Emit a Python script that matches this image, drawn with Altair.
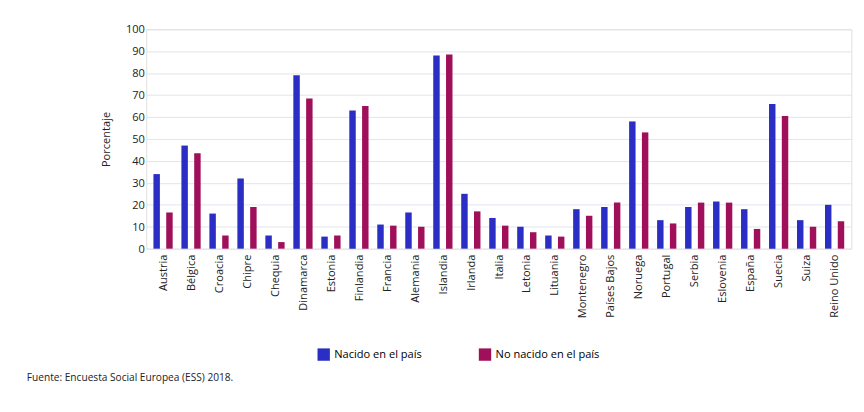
import altair as alt
import pandas as pd

countries = ["Austria","Bélgica","Croacia","Chipre","Chequia","Dinamarca","Estonia","Finlandia","Francia","Alemania","Islandia","Irlanda","Italia","Letonia","Lituania","Montenegro","Países Bajos","Noruega","Portugal","Serbia","Eslovenia","España","Suecia","Suiza","Reino Unido"]
nacido = [34,47,16,32,6,79,5.5,63,11,16.5,88,25,14,10,6,18,19,58,13,19,21.5,18,66,13,20]
no_nacido = [16.5,43.5,6,19,3,68.5,6,65,10.5,10,88.5,17,10.5,7.5,5.5,15,21,53,11.5,21,21,9,60.5,10,12.5]
series = ["Nacido en el país","No nacido en el país"]

rows = []
for c, a, b in zip(countries, nacido, no_nacido):
    rows.append({"País": c, "Serie": series[0], "Valor": a})
    rows.append({"País": c, "Serie": series[1], "Valor": b})
df = pd.DataFrame(rows)

chart = alt.Chart(df).mark_bar(width=7).encode(
    x=alt.X("País:N", sort=countries, title=None,
            axis=alt.Axis(labelAngle=-90, labelFontSize=12, labelColor="#222", domain=False, ticks=False, labelPadding=6)),
    xOffset=alt.XOffset("Serie:N", sort=series, scale=alt.Scale(paddingInner=0.25)),
    y=alt.Y("Valor:Q", title="Porcentaje", scale=alt.Scale(domain=[0,100]),
            axis=alt.Axis(values=list(range(0,101,10)), labelFontSize=12, titleFontSize=12, titleFontWeight="normal",
                          domain=False, ticks=False, gridColor="#dde3ea", labelColor="#222", titleColor="#222", titlePadding=14)),
    color=alt.Color("Serie:N", sort=series,
                    scale=alt.Scale(domain=series, range=["#2a2ec4","#a0105a"]),
                    legend=alt.Legend(orient="none", legendX=185, legendY=345, direction="horizontal", title=None,
                                      symbolType="square", symbolSize=180, labelFontSize=12, columnPadding=60)),
).properties(
    width=765, height=238,
    title=alt.TitleParams(["", "", "Fuente: Encuesta Social Europea (ESS) 2018."], orient="bottom", anchor="start",
                          fontSize=11, fontWeight="normal", color="#222", offset=0, dx=-80),
).configure_view(stroke=None).configure(font="Open Sans", padding={"left": 20, "top": 0, "right": 5, "bottom": 0})

chart.save("out.html", embed_options={"renderer": "svg", "actions": False})
